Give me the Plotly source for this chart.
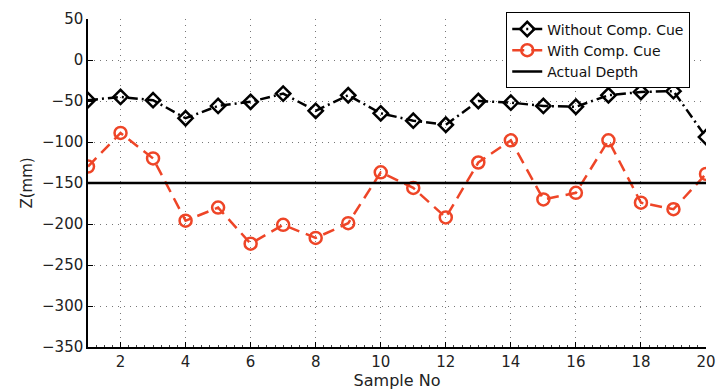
import plotly.graph_objects as go

samples = list(range(1, 21))
without_cue = [-49, -45, -49, -71, -56, -51, -41, -62, -43, -65,
               -74, -79, -50, -52, -56, -57, -43, -39, -38, -94]
with_cue = [-130, -89, -120, -196, -180, -224, -201, -217, -199, -137,
            -156, -192, -125, -98, -170, -162, -98, -174, -182, -139]
actual_depth = -150

x_ticks = [2, 4, 6, 8, 10, 12, 14, 16, 18, 20]
y_ticks = [50, 0, -50, -100, -150, -200, -250, -300, -350]

red = "#ee4527"

fig = go.Figure()
fig.add_trace(go.Scatter(
    x=samples, y=without_cue, name="Without Comp. Cue",
    mode="lines+markers",
    line=dict(color="black", width=2.5, dash="10px,4px,2px,4px"),
    marker=dict(symbol="diamond-open", size=11, color="black",
                line=dict(width=2.5, color="black")),
))
fig.add_trace(go.Scatter(
    x=samples, y=with_cue, name="With Comp. Cue",
    mode="lines+markers",
    line=dict(color=red, width=2.5, dash="12px,7px"),
    marker=dict(symbol="circle-open", size=12, color=red,
                line=dict(width=2.5, color=red)),
))
fig.add_trace(go.Scatter(
    x=[samples[0], samples[-1]], y=[actual_depth, actual_depth],
    name="Actual Depth", mode="lines",
    line=dict(color="black", width=2.5),
))

font_family = "DejaVu Sans, sans-serif"
grid = dict(showgrid=True, gridcolor="#777", griddash="1px,5px", gridwidth=1)
fig.update_layout(
    width=726, height=392,
    margin=dict(l=88, r=11, t=10, b=39),
    paper_bgcolor="white", plot_bgcolor="white",
    font=dict(family=font_family, size=15, color="#222"),
    showlegend=True,
    legend=dict(
        x=0.9745, xanchor="right", y=1.02, yanchor="top",
        bgcolor="white", bordercolor="black", borderwidth=1,
        font=dict(size=14, color="#111"),
        tracegroupgap=0, itemwidth=30,
    ),
    xaxis=dict(
        range=[1, 20], tickvals=x_ticks, **grid,
        showline=True, linecolor="black", linewidth=1.5,
        ticks="inside", ticklen=5, tickcolor="black",
        minor=dict(dtick=0.25, ticks="inside", ticklen=2, tickcolor="#444", showgrid=False),
        zeroline=False,
        title=dict(text="Sample No", standoff=0, font=dict(size=16)),
        tickfont=dict(size=15),
    ),
    yaxis=dict(
        range=[-350, 50], tickvals=y_ticks, **grid,
        showline=True, linecolor="black", linewidth=1.5,
        ticks="inside", ticklen=5, tickcolor="black",
        zeroline=False,
        title=dict(text="Z(mm)", standoff=6, font=dict(size=15)),
        tickfont=dict(size=15),
    ),
)

fig.write_html("out.html")
